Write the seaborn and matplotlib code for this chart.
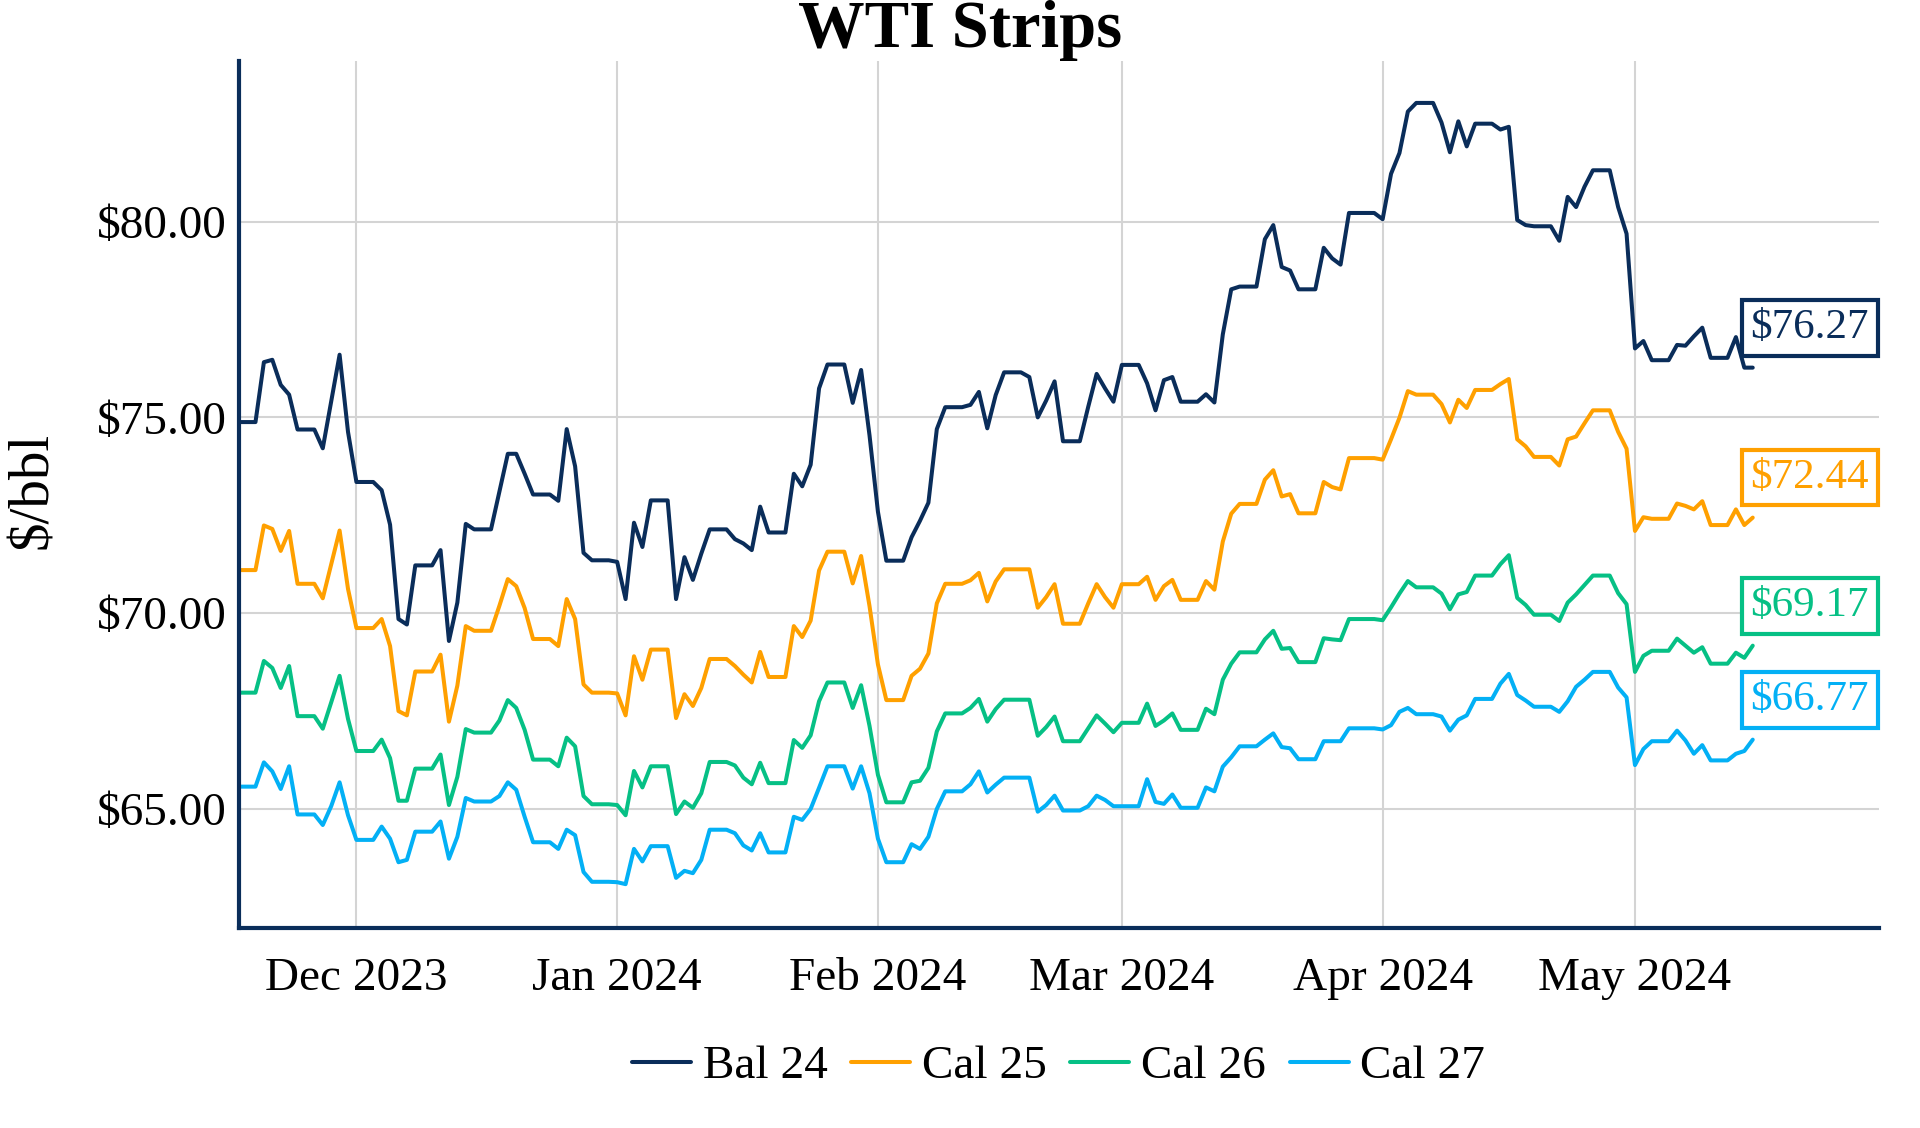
import pandas as pd
import matplotlib
matplotlib.use('Agg')
import matplotlib.pyplot as plt
import matplotlib.dates as mdates
from matplotlib.ticker import FuncFormatter
import seaborn as sns

# WTI strip prices, one value per calendar day (weekends carry Friday's price)
# rows: Fri-Sun of the first week, then Mon..Sun weeks, then Mon-Wed
start_date = '2023-11-17'
end_date = '2024-05-15'

bal_24 = [
    74.88, 74.88, 74.88,
    76.41, 76.47, 75.83, 75.58, 74.69, 74.69, 74.69,
    74.21, 75.41, 76.60, 74.63, 73.35, 73.35, 73.35,
    73.14, 72.26, 69.85, 69.71, 71.22, 71.22, 71.22,
    71.61, 69.29, 70.27, 72.28, 72.14, 72.14, 72.14,
    73.10, 74.07, 74.07, 73.56, 73.03, 73.03, 73.03,
    72.87, 74.70, 73.75, 71.54, 71.35, 71.35, 71.35,
    71.31, 70.36, 72.31, 71.69, 72.88, 72.88, 72.88,
    70.36, 71.43, 70.85, 71.52, 72.14, 72.14, 72.14,
    71.89, 71.78, 71.61, 72.72, 72.06, 72.06, 72.06,
    73.56, 73.24, 73.79, 75.74, 76.35, 76.35, 76.35,
    75.37, 76.21, 74.54, 72.59, 71.34, 71.34, 71.34,
    71.94, 72.36, 72.82, 74.70, 75.26, 75.26, 75.26,
    75.32, 75.65, 74.72, 75.57, 76.15, 76.15, 76.15,
    76.03, 75.00, 75.43, 75.92, 74.39, 74.39, 74.39,
    75.27, 76.11, 75.74, 75.40, 76.34, 76.34, 76.34,
    75.87, 75.18, 75.95, 76.03, 75.40, 75.40, 75.40,
    75.59, 75.38, 77.12, 78.27, 78.34, 78.34, 78.34,
    79.55, 79.91, 78.84, 78.75, 78.27, 78.27, 78.27,
    79.33, 79.06, 78.90, 80.22, 80.22, 80.22, 80.22,
    80.06, 81.22, 81.75, 82.81, 83.03, 83.03, 83.03,
    82.53, 81.77, 82.56, 81.92, 82.50, 82.50, 82.50,
    82.35, 82.42, 80.04, 79.91, 79.88, 79.88, 79.88,
    79.51, 80.63, 80.37, 80.89, 81.31, 81.31, 81.31,
    80.37, 79.69, 76.76, 76.95, 76.46, 76.46, 76.46,
    76.85, 76.83, 77.07, 77.29, 76.52, 76.52, 76.52,
    77.05, 76.27, 76.27,
]

cal_25 = [
    71.10, 71.10, 71.10,
    72.24, 72.15, 71.59, 72.10, 70.75, 70.75, 70.75,
    70.38, 71.24, 72.11, 70.62, 69.62, 69.62, 69.62,
    69.85, 69.16, 67.50, 67.39, 68.51, 68.51, 68.51,
    68.94, 67.23, 68.15, 69.67, 69.55, 69.55, 69.55,
    70.19, 70.87, 70.69, 70.13, 69.34, 69.34, 69.34,
    69.16, 70.36, 69.85, 68.18, 67.97, 67.97, 67.97,
    67.95, 67.39, 68.90, 68.30, 69.07, 69.07, 69.07,
    67.32, 67.93, 67.63, 68.09, 68.83, 68.83, 68.83,
    68.65, 68.43, 68.23, 69.01, 68.37, 68.37, 68.37,
    69.67, 69.39, 69.81, 71.09, 71.57, 71.57, 71.57,
    70.76, 71.46, 70.18, 68.69, 67.78, 67.78, 67.78,
    68.40, 68.58, 68.97, 70.25, 70.75, 70.75, 70.75,
    70.84, 71.03, 70.30, 70.81, 71.12, 71.12, 71.12,
    71.12, 70.14, 70.41, 70.74, 69.73, 69.73, 69.73,
    70.25, 70.74, 70.41, 70.14, 70.74, 70.74, 70.74,
    70.93, 70.34, 70.69, 70.85, 70.34, 70.34, 70.34,
    70.82, 70.60, 71.83, 72.54, 72.79, 72.79, 72.79,
    73.41, 73.65, 72.98, 73.04, 72.55, 72.55, 72.55,
    73.35, 73.22, 73.16, 73.96, 73.96, 73.96, 73.96,
    73.92, 74.44, 74.99, 75.67, 75.58, 75.58, 75.58,
    75.34, 74.87, 75.45, 75.24, 75.70, 75.70, 75.70,
    75.85, 75.98, 74.44, 74.26, 73.99, 73.99, 73.99,
    73.77, 74.44, 74.51, 74.85, 75.18, 75.18, 75.18,
    74.63, 74.20, 72.10, 72.45, 72.41, 72.41, 72.41,
    72.80, 72.74, 72.65, 72.86, 72.25, 72.25, 72.25,
    72.65, 72.25, 72.44,
]

cal_26 = [
    67.97, 67.97, 67.97,
    68.78, 68.60, 68.09, 68.65, 67.37, 67.37, 67.37,
    67.05, 67.72, 68.40, 67.30, 66.48, 66.48, 66.48,
    66.77, 66.30, 65.21, 65.21, 66.03, 66.03, 66.03,
    66.39, 65.10, 65.82, 67.04, 66.95, 66.95, 66.95,
    67.26, 67.78, 67.58, 67.02, 66.26, 66.26, 66.26,
    66.09, 66.82, 66.60, 65.33, 65.12, 65.12, 65.12,
    65.10, 64.84, 65.97, 65.55, 66.09, 66.09, 66.09,
    64.87, 65.19, 65.03, 65.40, 66.20, 66.20, 66.20,
    66.11, 65.80, 65.63, 66.18, 65.66, 65.66, 65.66,
    66.76, 66.56, 66.88, 67.75, 68.23, 68.23, 68.23,
    67.58, 68.16, 67.12, 65.87, 65.17, 65.17, 65.17,
    65.68, 65.72, 66.05, 66.98, 67.44, 67.44, 67.44,
    67.58, 67.81, 67.23, 67.55, 67.79, 67.79, 67.79,
    67.79, 66.87, 67.09, 67.36, 66.73, 66.73, 66.73,
    67.06, 67.39, 67.18, 66.96, 67.20, 67.20, 67.20,
    67.69, 67.12, 67.26, 67.44, 67.02, 67.02, 67.02,
    67.56, 67.42, 68.30, 68.71, 69.00, 69.00, 69.00,
    69.33, 69.55, 69.09, 69.11, 68.75, 68.75, 68.75,
    69.36, 69.33, 69.31, 69.85, 69.85, 69.85, 69.85,
    69.82, 70.15, 70.50, 70.82, 70.66, 70.66, 70.66,
    70.50, 70.10, 70.48, 70.54, 70.96, 70.96, 70.96,
    71.25, 71.48, 70.39, 70.21, 69.96, 69.96, 69.96,
    69.80, 70.27, 70.48, 70.72, 70.96, 70.96, 70.96,
    70.51, 70.23, 68.50, 68.91, 69.04, 69.04, 69.04,
    69.35, 69.17, 68.99, 69.13, 68.71, 68.71, 68.71,
    68.99, 68.86, 69.17,
]

cal_27 = [
    65.57, 65.57, 65.57,
    66.19, 65.96, 65.51, 66.09, 64.86, 64.86, 64.86,
    64.59, 65.07, 65.68, 64.84, 64.21, 64.21, 64.21,
    64.55, 64.24, 63.64, 63.70, 64.42, 64.42, 64.42,
    64.68, 63.73, 64.29, 65.28, 65.19, 65.19, 65.19,
    65.33, 65.68, 65.49, 64.80, 64.15, 64.15, 64.15,
    63.98, 64.47, 64.33, 63.39, 63.14, 63.14, 63.14,
    63.13, 63.08, 63.98, 63.66, 64.05, 64.05, 64.05,
    63.24, 63.42, 63.36, 63.70, 64.47, 64.47, 64.47,
    64.38, 64.07, 63.94, 64.38, 63.89, 63.89, 63.89,
    64.80, 64.72, 65.00, 65.54, 66.09, 66.09, 66.09,
    65.52, 66.09, 65.40, 64.24, 63.64, 63.64, 63.64,
    64.10, 63.98, 64.29, 65.00, 65.45, 65.45, 65.45,
    65.63, 65.96, 65.42, 65.62, 65.80, 65.80, 65.80,
    65.80, 64.93, 65.10, 65.34, 64.96, 64.96, 64.96,
    65.07, 65.34, 65.23, 65.07, 65.07, 65.07, 65.07,
    65.76, 65.18, 65.13, 65.37, 65.03, 65.03, 65.03,
    65.55, 65.45, 66.08, 66.32, 66.60, 66.60, 66.60,
    66.77, 66.93, 66.58, 66.55, 66.27, 66.27, 66.27,
    66.73, 66.73, 66.73, 67.06, 67.06, 67.06, 67.06,
    67.03, 67.14, 67.48, 67.58, 67.42, 67.42, 67.42,
    67.36, 67.00, 67.28, 67.39, 67.81, 67.81, 67.81,
    68.20, 68.45, 67.91, 67.77, 67.61, 67.61, 67.61,
    67.48, 67.75, 68.12, 68.30, 68.50, 68.50, 68.50,
    68.10, 67.85, 66.12, 66.53, 66.73, 66.73, 66.73,
    67.00, 66.75, 66.41, 66.63, 66.24, 66.24, 66.24,
    66.41, 66.48, 66.77,
]

strips = ['Bal 24', 'Cal 25', 'Cal 26', 'Cal 27']
colors = {'Bal 24': '#0a2d5a', 'Cal 25': '#ffa000', 'Cal 26': '#06c085', 'Cal 27': '#03b0f5'}
y_ticks = [65, 70, 75, 80]

sns.set_theme(style='white')
plt.rcParams['font.family'] = ['Liberation Serif', 'DejaVu Serif']
plt.rcParams['text.color'] = 'black'

dates = pd.date_range(start_date, end_date, freq='D')
wide = pd.DataFrame({'date': dates, 'Bal 24': bal_24, 'Cal 25': cal_25,
                     'Cal 26': cal_26, 'Cal 27': cal_27})
df = wide.melt(id_vars='date', var_name='strip', value_name='price')

fig = plt.figure(figsize=(19.2, 11.28), dpi=100)
ax = fig.add_axes([0.1243, 0.1773, 0.8543, 0.7686])

sns.lineplot(data=df, x='date', y='price', hue='strip', hue_order=strips,
             palette=colors, linewidth=2.9, errorbar=None, ax=ax)

ax.set_xlim(pd.Timestamp('2023-11-17'), pd.Timestamp('2024-05-30'))
ax.set_ylim(61.96, 84.1)
ax.set_yticks(y_ticks)
ax.yaxis.set_major_formatter(FuncFormatter(lambda v, p: f'${v:.2f}'))
ax.xaxis.set_major_locator(mdates.MonthLocator())
ax.xaxis.set_major_formatter(mdates.DateFormatter('%b %Y'))
ax.tick_params(axis='both', length=0, labelsize=34, colors='black')
ax.tick_params(axis='x', pad=21.5)
ax.tick_params(axis='y', pad=8.6)
ax.set_xlabel('')
ax.set_ylabel('')

ax.grid(True, color='#d4d4d4', linewidth=1.5)
ax.set_axisbelow(True)
for side in ['top', 'right']:
    ax.spines[side].set_visible(False)
for side in ['left', 'bottom']:
    ax.spines[side].set_color('#0a2d5a')
    ax.spines[side].set_linewidth(3.0)

# last-value boxes on the right
for name in strips:
    last = wide[name].iloc[-1]
    ax.annotate(f'${last:.2f}', xy=(1, last), xycoords=ax.get_yaxis_transform(),
                xytext=(-10, 40), textcoords='offset pixels', ha='right', va='center',
                fontsize=31, color=colors[name], annotation_clip=False,
                bbox=dict(boxstyle='square,pad=0.2', fc='white', ec=colors[name], lw=3.0))

handles, labels = ax.get_legend_handles_labels()
ax.get_legend().remove()
fig.legend(handles, labels, loc='center', bbox_to_anchor=(0.5513, 0.0545), ncol=4,
           frameon=False, fontsize=34, handlelength=1.25, handletextpad=0.25,
           columnspacing=0.5, labelcolor='black')

fig.text(0.5, 1 - 47 / 1128, 'WTI Strips', ha='center', va='baseline',
         fontsize=48, fontweight='bold', color='black')
fig.text(33 / 1920, 1 - 490 / 1128, '$/bbl', rotation=90, ha='center', va='center',
         fontsize=41, color='black')

fig.savefig('out.png', dpi=100)
